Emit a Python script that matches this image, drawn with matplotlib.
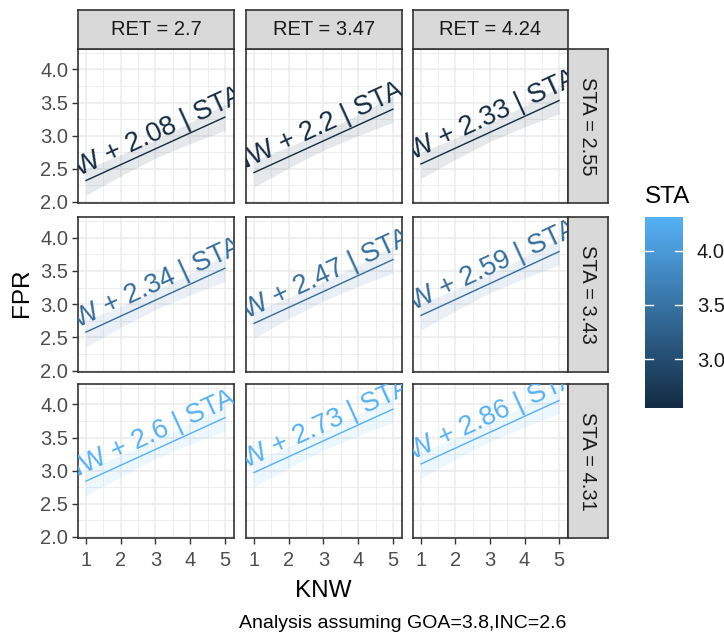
import numpy as np
import matplotlib.pyplot as plt
from matplotlib.colors import LinearSegmentedColormap, Normalize

plt.rcParams['font.family'] = ['Liberation Sans', 'DejaVu Sans']

# facet levels
ret_levels = [2.7, 3.47, 4.24]
sta_levels = [2.55, 3.43, 4.31]

# intercepts of the fitted line per panel (rows = STA, cols = RET)
intercepts = [[2.08, 2.2, 2.33],
              [2.34, 2.47, 2.59],
              [2.6, 2.73, 2.86]]
slope = 0.24

knw = [1, 2, 3, 4, 5]
# half-width of the interval band at each KNW value
band_lo = [0.22, 0.17, 0.14, 0.16, 0.20]
band_hi = [0.18, 0.15, 0.14, 0.16, 0.20]

x_ticks = [1, 2, 3, 4, 5]
y_ticks = [2.0, 2.5, 3.0, 3.5, 4.0]
cbar_ticks = [3.0, 3.5, 4.0]

caption = "Analysis assuming GOA=3.8,INC=2.6"

W, H = 724, 636
fig = plt.figure(figsize=(W / 100, H / 100), dpi=100)

cmap = LinearSegmentedColormap.from_list('gg', ['#132B43', '#56B1F7'])
norm = Normalize(vmin=2.55, vmax=4.31)


def px_axes(x0, y0, x1, y1):
    return fig.add_axes([x0 / W, 1 - y1 / H, (x1 - x0) / W, (y1 - y0) / H])


col_px = [(78, 234), (246, 402), (413, 568)]
row_px = [(49, 203), (217, 372), (384, 538)]
strip_top = 10
strip_right = 608
edge = '#333333'

xs = np.array(knw, dtype=float)
for i, sta in enumerate(sta_levels):
    for j, ret in enumerate(ret_levels):
        x0, x1 = col_px[j]
        y0, y1 = row_px[i]
        ax = px_axes(x0, y0, x1, y1)
        ax.set_xlim(0.77, 5.26)
        ax.set_ylim(1.98, 4.31)
        ax.set_xticks(x_ticks)
        ax.set_yticks(y_ticks)
        ax.set_xticks([1.5, 2.5, 3.5, 4.5], minor=True)
        ax.set_yticks([2.25, 2.75, 3.25, 3.75, 4.25], minor=True)
        ax.grid(True, which='major', color='#EBEBEB', lw=1.1)
        ax.grid(True, which='minor', color='#EBEBEB', lw=0.6)
        ax.set_axisbelow(True)
        for s in ax.spines.values():
            s.set_color(edge)
            s.set_linewidth(1.2)
        ax.tick_params(which='minor', length=0)
        ax.tick_params(which='major', length=4, width=1, color=edge,
                       labelsize=14.5, labelcolor='#4D4D4D', pad=3)
        ax.tick_params(axis='x', pad=5)
        if j != 0:
            ax.tick_params(axis='y', length=0, labelleft=False)
        else:
            ax.set_yticklabels([f"{v:.1f}" for v in y_ticks])
        if i != 2:
            ax.tick_params(axis='x', length=0, labelbottom=False)

        b = intercepts[i][j]
        col = cmap(norm(sta))
        ys = slope * xs + b
        ax.fill_between(xs, ys - np.array(band_lo), ys + np.array(band_hi),
                        color=col, alpha=0.1, lw=0)
        ax.plot(xs, ys, color=col, lw=1)

        # rotated equation label, clipped by the panel
        p1 = ax.transData.transform((1, 0))
        p2 = ax.transData.transform((5, 4 * slope))
        ang = np.degrees(np.arctan2(p2[1] - p1[1], p2[0] - p1[0]))
        lx = 1.72
        ax.text(lx, slope * lx + b + 0.24,
                f"FPR = 0.24*KNW + {b} | STA = {sta}",
                color=col, fontsize=19.5, rotation=ang, rotation_mode='anchor',
                ha='center', va='center', clip_on=True)

        # strips
        if i == 0:
            sa = px_axes(x0, strip_top, x1, y0)
            sa.set_facecolor('#D9D9D9')
            sa.set_xticks([])
            sa.set_yticks([])
            for s in sa.spines.values():
                s.set_color(edge)
                s.set_linewidth(1.2)
            sa.text(0.5, 0.5, f"RET = {ret}", ha='center', va='center',
                    fontsize=14.5, color='#1A1A1A', transform=sa.transAxes)
        if j == 2:
            sa = px_axes(x1, y0, strip_right, y1)
            sa.set_facecolor('#D9D9D9')
            sa.set_xticks([])
            sa.set_yticks([])
            for s in sa.spines.values():
                s.set_color(edge)
                s.set_linewidth(1.2)
            sa.text(0.5, 0.5, f"STA = {sta}", ha='center', va='center',
                    rotation=-90, fontsize=14.5, color='#1A1A1A',
                    transform=sa.transAxes)

# axis titles and caption
fig.text(22 / W, 1 - 293 / H, "FPR", rotation=90, ha='center', va='center',
         fontsize=17.5)
fig.text(323 / W, 1 - 591 / H, "KNW", ha='center', va='center', fontsize=17.5)
fig.text(566 / W, 1 - 623 / H, caption, ha='right', va='center', fontsize=14)

# colour bar legend
cax = px_axes(645, 217, 683, 408)
grad = np.linspace(2.55, 4.31, 256).reshape(-1, 1)
cax.imshow(grad, cmap=cmap, norm=norm, aspect='auto', origin='lower',
           extent=(0, 1, 2.55, 4.31))
cax.set_xlim(0, 1)
cax.set_ylim(2.55, 4.31)
cax.set_xticks([])
for s in cax.spines.values():
    s.set_visible(False)
cax.yaxis.tick_right()
cax.set_yticks(cbar_ticks)
cax.set_yticklabels([f"{v:.1f}" for v in cbar_ticks])
cax.tick_params(axis='y', length=0, labelsize=14.5, labelcolor='#1A1A1A',
                pad=10)
for t in cbar_ticks:
    cax.plot([0, 0.2], [t, t], color='white', lw=1)
    cax.plot([0.8, 1], [t, t], color='white', lw=1)
fig.text(645 / W, 1 - 197 / H, "STA", ha='left', va='center', fontsize=17.5)

fig.savefig('out.png', dpi=100)
